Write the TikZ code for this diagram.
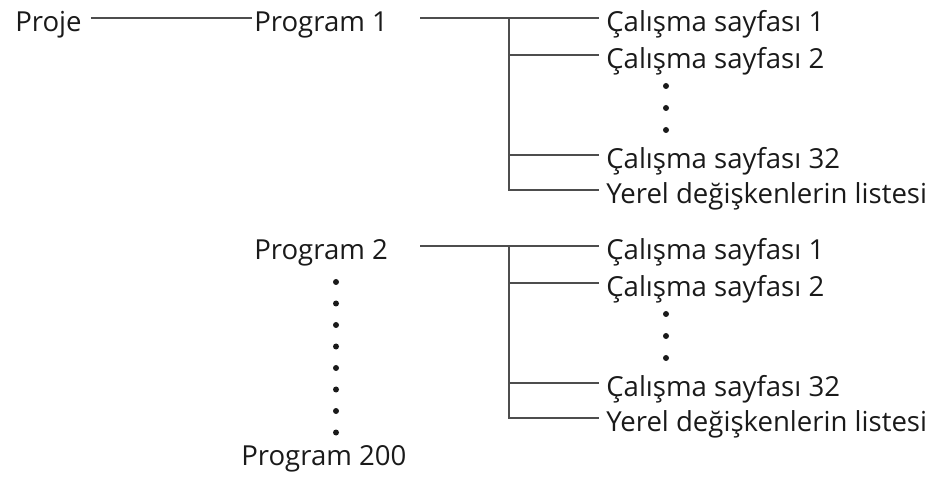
\documentclass[tikz,border=0pt]{standalone}
\usepackage{fontspec}
\setmainfont{Open Sans}
\definecolor{txtgray}{HTML}{1A1A1A}
\definecolor{linegray}{HTML}{4D4D4D}

\begin{document}
\begin{tikzpicture}[x=0.025cm, y=-0.025cm,
  lbl/.style={anchor=west, inner sep=0pt, text height=19pt, text depth=0pt,
    font=\fontsize{19.6}{23}\selectfont, text=txtgray},
  conn/.style={draw=linegray, line width=1.2pt},
  vdot/.style={fill=txtgray}]

\useasboundingbox (0,0) rectangle (944,477);

% ---- Project and first program ----
\node[lbl] (proje) at (15,18) {Proje};

% ---- Program blocks with their worksheets ----
\foreach \b/\yo in {1/0, 2/228} {
  \node[lbl] (prog\b) at (254,18+\yo) {Program \b};
  \coordinate (j\b) at (509,18+\yo);
  \node[lbl] (ws1-\b) at (606,18+\yo) {Çalışma sayfası 1};
  \node[lbl] (ws2-\b) at (606,55+\yo) {Çalışma sayfası 2};
  \node[lbl] (ws32-\b) at (606,155+\yo) {Çalışma sayfası 32};
  \node[lbl] (list-\b) at (606,190+\yo) {Yerel değişkenlerin listesi};
  % connectors
  \draw[conn, shorten <=0.8cm, shorten >=0.175cm] (prog\b.east) -- (ws1-\b.west);
  \draw[conn, shorten >=0.175cm] (j\b) |- (list-\b.west);
  \foreach \n in {2,32}
    \draw[conn, shorten >=0.175cm] (j\b) |- (ws\n-\b.west);
  % skipped worksheets
  \foreach \d in {86,108,130}
    \fill[vdot] (666,\d+\yo) circle (0.075cm);
}

\draw[conn, shorten <=0.225cm, shorten >=0.05cm] (proje.east) -- (prog1.west);

% ---- Skipped programs ----
\foreach \d in {0,...,7}
  \fill[vdot] (336,282+21.5*\d) circle (0.075cm);
\node[lbl] (prog200) at (241,452) {Program 200};

\end{tikzpicture}
\end{document}
